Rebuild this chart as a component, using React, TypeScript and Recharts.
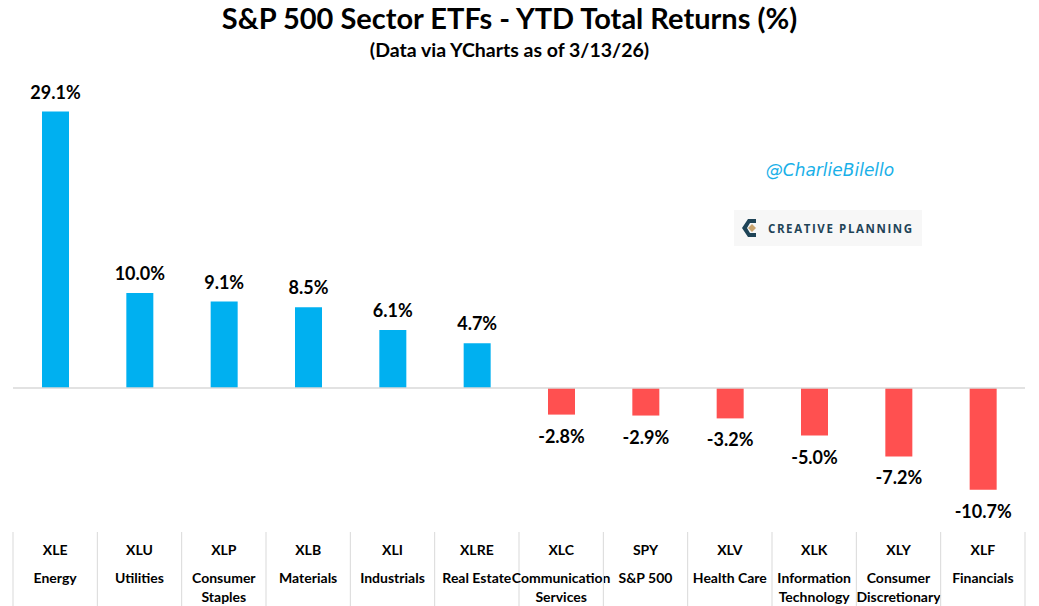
import React from "react"
import { BarChart, Bar, XAxis, YAxis, Cell, LabelList, ReferenceLine } from "recharts"

const tickers = ["XLE", "XLU", "XLP", "XLB", "XLI", "XLRE", "XLC", "SPY", "XLV", "XLK", "XLY", "XLF"]
const sectorNames = [
  ["Energy"],
  ["Utilities"],
  ["Consumer", "Staples"],
  ["Materials"],
  ["Industrials"],
  ["Real Estate"],
  ["Communication", "Services"],
  ["S&P 500"],
  ["Health Care"],
  ["Information", "Technology"],
  ["Consumer", "Discretionary"],
  ["Financials"],
]
const ytdReturns = [29.1, 10.0, 9.1, 8.5, 6.1, 4.7, -2.8, -2.9, -3.2, -5.0, -7.2, -10.7]

const data = tickers.map((t, i) => ({ ticker: t, ret: ytdReturns[i] }))

const BLUE = "#00B0F0"
const RED = "#FF5050"
const FONT = "Lato, 'Open Sans', sans-serif"

function BarLabel(props: any) {
  const { x, y, width, height, value } = props
  const top = Math.min(y, y + height)
  const bottom = Math.max(y, y + height)
  const cx = x + width / 2
  const ty = value >= 0 ? top - 13 : bottom + 28
  return (
    <text x={cx} y={ty} textAnchor="middle" fontFamily={FONT} fontWeight={700} fontSize={18} fill="#000">
      {value.toFixed(1)}%
    </text>
  )
}

// ticker + sector name in a little table under the chart
function TableTick(props: any) {
  const { x, y, payload, index } = props
  const cellW = 1012 / tickers.length
  const lines = sectorNames[index] || []
  return (
    <g>
      <line x1={x - cellW / 2} x2={x - cellW / 2} y1={y + 30} y2={y + 104} stroke="#d9d9d9" />
      {index === tickers.length - 1 && (
        <line x1={x + cellW / 2} x2={x + cellW / 2} y1={y + 30} y2={y + 104} stroke="#d9d9d9" />
      )}
      <text x={x} y={y + 53} textAnchor="middle" fontFamily={FONT} fontWeight={700} fontSize={14} fill="#000">
        {payload.value}
      </text>
      {lines.map((l: string, i: number) => (
        <text key={i} x={x} y={y + 81 + i * 19} textAnchor="middle" fontFamily={FONT} fontWeight={700} fontSize={14} fill="#000">
          {l}
        </text>
      ))}
    </g>
  )
}

export default function App() {
  return (
    <div style={{ position: "relative", width: 1039, height: 606, background: "#fff", fontFamily: FONT }}>
      <style>{"body{margin:0}"}</style>
      <div style={{ position: "absolute", left: 0, width: 1019, top: 0, textAlign: "center", fontWeight: 700, fontSize: 29, lineHeight: "36px", color: "#000" }}>
        S&amp;P 500 Sector ETFs - YTD Total Returns (%)
      </div>
      <div style={{ position: "absolute", left: 0, width: 1019, top: 37, textAlign: "center", fontWeight: 700, fontSize: 19.5, lineHeight: "26px", color: "#000" }}>
        (Data via YCharts as of 3/13/26)
      </div>
      <BarChart width={1039} height={606} data={data} margin={{ top: 103, right: 14, bottom: 0, left: 13 }}>
        <XAxis
          dataKey="ticker"
          height={104}
          axisLine={false}
          tickLine={false}
          tickSize={0}
          tickMargin={0}
          interval={0}
          tick={<TableTick />}
        />
        <YAxis hide domain={[-12, 30]} width={0} />
        <ReferenceLine y={0} stroke="#d9d9d9" strokeWidth={1.5} />
        <Bar dataKey="ret" barSize={27} isAnimationActive={false}>
          {data.map((d, i) => (
            <Cell key={i} fill={d.ret >= 0 ? BLUE : RED} />
          ))}
          <LabelList dataKey="ret" content={<BarLabel />} />
        </Bar>
      </BarChart>
      <div style={{ position: "absolute", left: 740, width: 180, top: 160, textAlign: "center", fontStyle: "italic", fontSize: 17, color: "#1AB0E8", fontFamily: "'Comic Sans MS', 'DejaVu Sans', sans-serif" }}>
        @CharlieBilello
      </div>
      <div style={{ position: "absolute", left: 734, top: 210, width: 188, height: 36, background: "#f7f7f7", display: "flex", alignItems: "center" }}>
        <svg width={22} height={24} viewBox="0 0 22 24" style={{ marginLeft: 6 }}>
          <path d="M16 3 L8 3 L2 12 L8 21 L16 21 L16 17 L10 17 L7 12 L10 7 L16 7 Z" fill="#1F4457" />
          <path d="M12 8 L16 12 L12 16 L8 12 Z" fill="#C9A46E" />
        </svg>
        <span style={{ marginLeft: 6, fontSize: 11.5, fontWeight: 700, letterSpacing: 1.6, color: "#1F4457", fontFamily: "'Open Sans', sans-serif" }}>
          CREATIVE PLANNING
        </span>
      </div>
    </div>
  )
}
